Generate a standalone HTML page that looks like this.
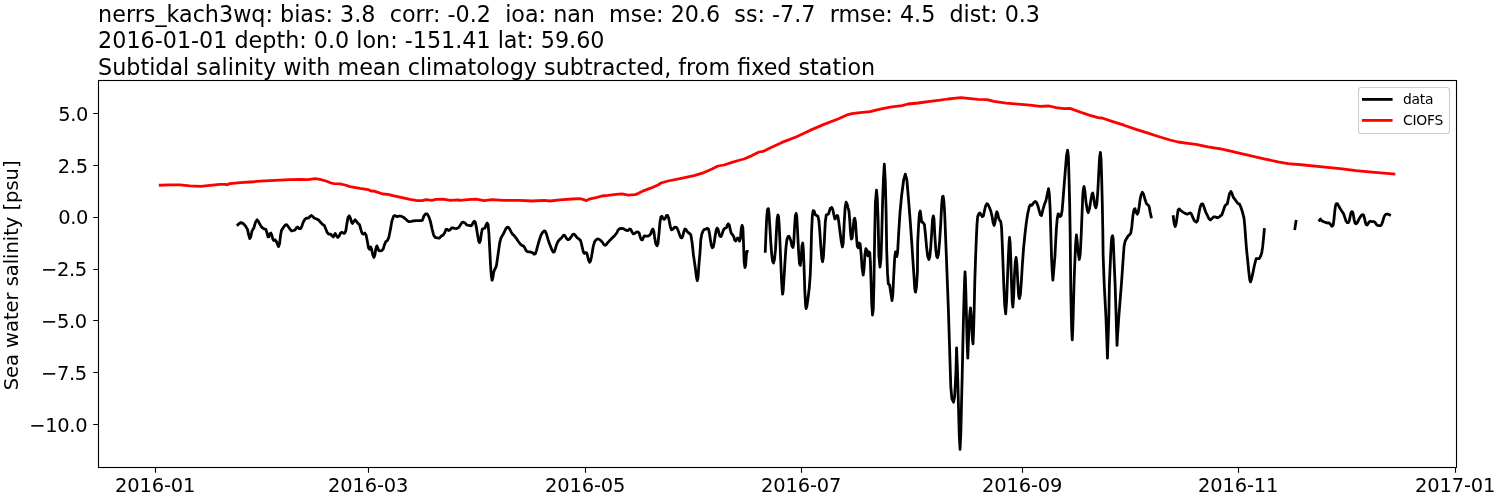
<!DOCTYPE html>
<html lang="en"><head><meta charset="utf-8"><title>nerrs_kach3wq salinity</title>
<style>html,body{margin:0;padding:0;background:#fff;width:1500px;height:500px;overflow:hidden}</style></head>
<body>
<svg width="1500" height="500" viewBox="0 0 1500 500" style="position:absolute;left:0;top:0;will-change:transform">
<rect x="0" y="0" width="1500" height="500" fill="#fff"/>
<defs><clipPath id="ax"><rect x="98.5" y="80.5" width="1358.0" height="387.0"/></clipPath></defs>
<g clip-path="url(#ax)" fill="none" stroke-linejoin="round" stroke-linecap="square">
<path d="M237.92 224.76 L239.20 223.48 L241.12 222.52 L243.20 223.48 L245.60 226.20 L247.52 229.40 L248.48 234.20 L249.76 238.52 L250.72 236.92 L252.00 231.00 L253.92 227.80 L255.52 222.20 L257.12 219.80 L258.40 221.40 L260.00 224.60 L261.92 227.48 L264.00 228.92 L265.92 229.40 L266.88 232.60 L268.00 236.92 L268.96 236.92 L269.92 233.72 L270.88 233.08 L271.84 235.00 L272.80 239.00 L273.76 240.60 L275.04 239.80 L276.32 241.40 L277.60 244.60 L278.56 246.52 L279.52 243.80 L280.48 235.80 L281.44 230.52 L283.20 227.80 L284.80 225.40 L286.40 224.60 L288.00 226.20 L289.60 228.60 L291.52 231.00 L293.60 230.52 L295.20 229.88 L296.48 227.80 L297.76 227.00 L299.04 228.60 L300.64 228.60 L301.92 226.20 L303.20 222.20 L304.80 219.32 L306.40 218.20 L308.32 218.20 L309.92 216.60 L311.20 215.48 L312.80 216.60 L314.40 218.20 L316.80 219.00 L318.88 220.28 L320.80 222.52 L322.72 224.60 L324.32 225.40 L325.60 228.60 L327.20 232.60 L328.80 234.20 L330.72 234.20 L332.00 235.80 L333.28 236.92 L334.24 235.00 L335.20 233.40 L336.48 235.80 L337.76 237.40 L339.04 236.28 L340.32 233.40 L341.60 232.28 L343.20 233.08 L344.48 233.40 L345.76 231.00 L346.88 223.80 L348.00 217.40 L349.28 215.80 L350.40 218.20 L351.52 222.20 L352.48 223.48 L353.76 221.40 L355.20 219.80 L356.48 221.40 L357.92 223.48 L359.52 224.60 L360.80 229.40 L362.08 233.40 L363.36 234.20 L364.80 233.08 L366.08 235.00 L367.20 240.60 L368.48 247.80 L369.76 249.40 L370.72 247.00 L371.68 249.40 L372.80 255.00 L373.92 257.40 L374.88 255.00 L375.84 248.60 L376.80 245.88 L377.76 247.80 L378.72 250.68 L380.00 251.00 L381.60 250.68 L383.20 249.08 L384.48 244.60 L385.76 241.72 L387.36 240.60 L388.80 237.40 L390.40 229.40 L392.00 220.60 L393.60 216.12 L394.88 215.48 L396.80 216.60 L398.88 216.12 L401.12 216.12 L403.68 217.40 L406.40 219.80 L408.80 221.72 L411.20 221.40 L413.60 220.92 L416.00 220.60 L418.40 220.60 L420.80 220.60 L422.40 220.28 L424.00 215.80 L425.60 213.88 L427.20 213.88 L428.80 216.60 L430.40 221.40 L432.00 228.60 L433.60 235.00 L435.20 237.40 L437.28 237.88 L439.20 238.20 L441.12 236.28 L443.20 235.00 L444.80 232.60 L445.92 229.40 L447.20 229.40 L448.48 230.52 L450.08 229.88 L451.68 227.80 L452.88 227.88 L454.80 228.36 L456.72 228.52 L458.80 227.40 L460.40 225.00 L462.00 222.60 L463.60 222.12 L465.20 223.08 L466.80 225.00 L468.88 225.48 L470.80 225.80 L472.08 225.00 L473.20 222.28 L474.32 221.32 L475.28 222.28 L476.40 227.40 L477.52 234.60 L478.80 241.48 L479.60 242.60 L480.40 240.52 L481.36 233.80 L482.32 229.00 L483.60 228.52 L484.88 228.20 L486.00 225.00 L487.12 223.08 L488.08 224.52 L488.88 233.00 L489.68 248.20 L490.48 264.20 L491.28 275.40 L492.08 280.20 L492.88 277.80 L493.52 273.00 L494.48 269.80 L495.60 267.72 L496.40 265.80 L497.36 259.40 L498.48 251.40 L499.60 243.40 L500.88 238.28 L502.48 235.40 L504.08 232.52 L505.68 229.00 L507.28 227.08 L508.56 227.40 L509.84 229.32 L511.12 231.88 L512.40 234.12 L514.00 235.40 L515.92 237.80 L518.00 241.00 L520.08 243.72 L521.68 245.32 L523.28 245.80 L524.56 247.40 L525.84 250.12 L527.12 251.72 L529.20 251.88 L531.28 252.20 L532.88 253.00 L534.16 254.28 L535.28 253.80 L536.40 250.60 L537.68 245.80 L539.28 240.20 L540.88 235.40 L542.48 232.52 L544.08 230.92 L545.36 231.40 L546.64 234.60 L548.24 240.20 L550.00 245.00 L551.76 249.48 L553.20 252.20 L554.32 251.88 L555.28 249.00 L556.56 244.68 L558.00 241.48 L559.76 239.40 L561.68 237.80 L563.28 235.40 L564.40 235.08 L565.52 236.68 L566.80 238.92 L568.08 239.72 L569.68 238.92 L571.28 236.68 L572.88 234.28 L574.16 234.12 L575.60 235.72 L577.20 237.80 L578.96 238.92 L580.56 240.52 L581.52 244.20 L582.48 248.20 L583.44 252.20 L584.40 253.48 L585.68 252.52 L586.80 253.00 L587.60 256.20 L588.56 260.20 L589.52 262.28 L590.48 261.32 L591.44 257.00 L592.40 251.40 L593.36 245.80 L594.48 242.12 L595.92 239.88 L597.52 238.92 L599.12 239.24 L600.72 240.52 L602.32 242.12 L603.60 244.20 L604.88 245.32 L606.16 244.68 L607.76 242.60 L610.00 240.20 L612.40 237.80 L614.80 235.40 L616.72 233.00 L618.00 230.28 L619.60 228.68 L621.52 228.36 L623.60 228.68 L625.20 229.80 L626.80 230.60 L628.40 230.28 L629.52 229.00 L630.80 229.32 L632.08 232.20 L633.36 233.80 L634.80 233.48 L636.40 232.20 L638.00 231.88 L639.12 233.00 L640.08 236.68 L641.20 239.40 L642.32 239.88 L643.28 237.80 L644.40 235.88 L646.00 236.20 L647.60 236.20 L649.20 235.40 L650.80 233.80 L651.92 230.28 L652.88 229.00 L653.84 231.40 L654.80 238.60 L655.92 244.20 L657.04 245.80 L658.00 243.40 L658.96 233.80 L659.92 222.60 L660.88 217.00 L661.84 216.20 L662.80 217.80 L664.08 219.40 L665.36 218.12 L666.64 215.40 L667.60 215.40 L668.56 217.80 L669.52 222.60 L670.48 227.40 L671.60 229.80 L672.88 229.32 L674.32 227.40 L675.92 227.08 L677.20 228.20 L678.48 231.40 L679.76 235.40 L681.04 237.80 L682.00 237.80 L682.96 235.40 L683.92 231.40 L684.88 229.00 L685.84 229.32 L687.12 231.40 L688.72 233.00 L690.00 233.80 L690.88 235.00 L692.16 243.00 L693.44 255.00 L695.20 267.00 L696.48 277.40 L697.28 280.60 L698.08 277.40 L698.88 265.40 L700.00 252.60 L700.80 239.80 L701.76 234.20 L703.04 231.00 L704.32 229.40 L705.92 229.08 L707.20 228.28 L708.48 228.92 L709.44 233.40 L710.40 239.80 L711.36 245.40 L712.32 247.80 L713.28 247.00 L714.24 242.20 L715.20 235.80 L716.16 230.20 L717.12 228.12 L718.08 229.40 L719.04 233.40 L720.00 236.28 L720.96 236.60 L721.92 234.68 L722.88 231.48 L724.00 228.92 L725.12 228.28 L726.40 227.80 L727.36 225.08 L728.32 223.80 L729.28 225.08 L730.24 229.40 L731.20 233.08 L732.48 234.68 L733.76 236.60 L734.72 240.12 L735.68 241.08 L736.64 239.48 L737.60 237.88 L738.56 239.00 L739.52 241.08 L740.48 238.20 L741.28 228.60 L742.08 225.40 L742.88 227.80 L743.52 243.00 L744.16 262.20 L744.96 267.48 L745.60 265.40 L746.24 257.40 L746.72 251.32 L747.20 251.32 M765.28 251.32 L765.92 235.00 L766.72 217.40 L767.52 209.40 L768.32 208.60 L768.96 212.60 L769.76 225.40 L770.72 241.40 L771.68 254.20 L772.64 261.40 L773.44 263.00 L774.40 259.80 L775.52 249.40 L776.32 233.40 L777.12 219.00 L777.92 215.00 L778.56 216.60 L779.20 225.40 L780.00 243.00 L780.80 262.20 L781.44 278.20 L782.08 289.40 L782.56 294.20 L783.20 290.68 L784.00 278.20 L784.96 262.20 L785.92 247.80 L786.88 239.80 L788.00 236.60 L788.96 236.28 L789.92 238.20 L791.04 241.40 L792.00 246.20 L792.96 247.48 L793.76 243.00 L794.56 227.00 L795.36 215.80 L796.16 213.40 L796.80 216.60 L797.60 231.80 L798.56 251.00 L799.52 263.80 L800.32 265.40 L801.12 259.00 L801.92 246.20 L802.72 243.00 L803.36 250.20 L804.00 265.40 L804.80 291.00 L805.60 305.40 L806.08 308.60 L806.88 306.20 L808.00 298.20 L809.28 287.80 L810.24 275.00 L810.88 259.00 L811.52 233.40 L812.32 215.80 L813.12 210.68 L814.08 211.00 L815.20 214.52 L816.48 215.48 L817.92 216.28 L818.88 220.60 L819.84 231.80 L820.80 246.20 L821.76 258.20 L822.56 261.72 L823.36 257.40 L824.32 241.40 L825.28 222.20 L826.24 215.00 L827.20 214.52 L828.48 214.20 L829.44 211.00 L830.40 208.12 L831.68 207.48 L832.80 209.40 L833.92 215.00 L834.88 219.00 L835.84 218.20 L836.80 215.48 L837.76 215.80 L838.72 221.40 L840.00 231.80 L841.28 241.40 L842.40 247.00 L843.20 243.00 L844.16 223.80 L845.12 207.80 L846.08 202.20 L847.04 203.80 L848.00 207.80 L848.96 211.00 L849.76 220.60 L850.56 233.40 L851.36 239.00 L852.16 238.20 L852.96 230.20 L853.92 219.80 L854.72 218.20 L855.52 222.20 L856.32 235.00 L857.28 246.20 L858.24 247.80 L859.20 243.00 L860.16 243.80 L861.12 254.20 L862.08 267.80 L863.20 275.00 L864.00 269.40 L864.96 254.20 L865.92 248.60 L866.88 250.20 L867.84 255.80 L868.80 251.80 L869.76 252.60 L870.40 262.20 L871.04 281.40 L871.68 303.00 L872.48 315.00 L873.28 309.40 L873.92 284.60 L874.56 243.00 L875.36 203.00 L876.48 190.20 L877.28 198.20 L878.08 219.00 L878.88 255.80 L880.00 267.00 L880.96 259.00 L881.76 235.00 L882.56 203.00 L883.36 180.60 L884.32 164.12 L885.28 180.60 L886.08 211.00 L886.72 251.00 L887.52 273.40 L888.32 283.80 L889.60 285.08 L890.88 293.40 L892.00 300.60 L892.80 295.00 L893.76 275.00 L894.72 257.40 L895.52 251.80 L896.80 256.60 L897.60 252.60 L898.56 235.00 L900.00 212.60 L901.60 195.80 L903.68 179.80 L905.28 174.20 L906.88 179.80 L908.48 199.00 L910.08 219.00 L911.68 241.40 L912.80 259.00 L913.92 275.00 L914.72 288.60 L915.52 292.12 L916.48 287.00 L917.44 271.80 L917.68 243.00 L918.32 230.20 L918.96 219.00 L919.60 212.60 L920.24 211.00 L920.88 215.80 L921.68 222.20 L922.80 222.20 L924.40 224.60 L925.52 235.00 L926.64 247.80 L927.76 256.60 L928.88 259.48 L929.84 256.60 L930.80 246.20 L931.76 231.80 L932.56 219.00 L933.36 215.80 L934.00 219.00 L934.80 235.00 L935.76 249.40 L936.72 256.60 L937.52 257.72 L938.48 254.20 L939.60 241.40 L940.72 223.80 L941.68 204.60 L942.48 196.92 L943.12 196.12 L943.92 201.40 L944.72 214.20 L945.52 235.00 L946.48 259.00 L947.44 284.60 L948.40 310.20 L949.20 335.80 L950.00 361.40 L950.80 387.00 L951.92 399.00 L953.52 402.20 L954.64 396.60 L955.60 379.00 L956.08 367.80 L956.56 347.80 L957.36 367.80 L957.84 382.20 L958.48 407.00 L959.28 435.80 L960.08 449.40 L960.88 431.80 L961.52 403.00 L962.16 377.40 L962.80 347.00 L963.44 319.80 L964.08 295.80 L964.56 281.40 L965.04 271.80 L965.52 281.40 L966.00 297.40 L966.48 316.60 L967.12 342.20 L967.76 358.20 L968.40 342.20 L969.20 323.00 L969.84 313.40 L970.48 307.80 L971.12 315.00 L971.76 327.80 L972.40 339.00 L973.04 343.80 L973.52 332.60 L974.16 310.20 L974.80 281.40 L975.60 257.40 L976.40 236.60 L977.04 223.80 L977.68 216.60 L978.80 213.88 L979.92 212.92 L981.20 215.00 L982.32 216.60 L983.44 215.80 L984.40 211.00 L985.52 206.20 L986.80 203.80 L987.92 204.28 L989.20 207.00 L990.80 211.00 L992.08 216.60 L993.20 223.00 L994.16 225.40 L995.12 222.20 L996.08 214.20 L996.88 211.80 L997.68 213.40 L998.64 218.20 L999.60 220.28 L1000.72 221.40 L1001.52 227.00 L1002.16 241.40 L1002.96 262.20 L1003.76 284.60 L1004.72 305.40 L1005.68 313.88 L1006.64 300.60 L1007.60 275.00 L1008.40 255.80 L1009.04 243.00 L1009.52 237.40 L1010.16 243.00 L1010.80 259.00 L1011.44 281.40 L1012.24 302.20 L1012.88 307.00 L1013.68 295.80 L1014.48 275.00 L1015.28 262.20 L1016.08 257.40 L1016.88 263.80 L1017.68 279.80 L1018.64 295.80 L1019.44 298.52 L1020.40 294.20 L1021.36 281.40 L1022.32 265.40 L1023.60 247.80 L1024.88 235.00 L1026.16 223.80 L1027.60 214.20 L1029.20 207.00 L1030.32 204.92 L1031.60 205.40 L1032.88 203.80 L1034.16 202.20 L1035.44 201.40 L1036.72 202.68 L1038.00 206.20 L1039.28 211.00 L1040.40 215.00 L1041.52 215.48 L1042.80 210.20 L1044.40 204.60 L1046.00 200.60 L1047.28 194.20 L1048.56 188.60 L1049.36 194.20 L1050.16 209.40 L1050.64 227.00 L1051.12 243.00 L1051.60 259.00 L1052.24 271.80 L1052.88 280.12 L1053.52 273.40 L1054.16 265.40 L1054.96 255.80 L1055.60 243.00 L1056.40 228.60 L1057.20 219.00 L1058.16 213.88 L1059.12 214.68 L1060.08 216.60 L1061.20 215.48 L1062.16 210.20 L1062.96 200.60 L1063.92 187.80 L1065.20 171.80 L1066.48 155.80 L1067.60 150.20 L1068.40 156.60 L1069.04 179.00 L1069.68 204.60 L1070.16 231.80 L1070.48 262.20 L1070.80 291.00 L1071.28 315.00 L1071.76 331.00 L1072.24 339.80 L1072.72 331.00 L1073.20 315.00 L1073.84 291.00 L1074.32 275.00 L1074.96 259.00 L1075.60 244.60 L1076.40 235.00 L1077.20 241.40 L1078.00 251.00 L1079.28 259.48 L1080.24 254.20 L1081.20 235.00 L1082.16 211.00 L1082.80 195.00 L1083.44 188.60 L1084.08 186.52 L1084.88 191.00 L1086.00 202.20 L1087.28 210.20 L1088.24 212.60 L1089.52 208.60 L1090.80 200.60 L1091.92 194.20 L1092.72 192.92 L1093.68 197.40 L1094.80 205.40 L1095.92 207.80 L1096.88 203.80 L1097.84 191.00 L1098.80 171.80 L1099.60 157.40 L1100.40 152.28 L1101.04 159.00 L1101.68 179.00 L1102.32 204.60 L1102.80 230.20 L1103.12 255.00 L1104.24 284.92 L1105.84 315.00 L1106.80 339.00 L1107.44 358.20 L1108.08 339.00 L1108.88 315.00 L1109.36 284.92 L1110.64 255.00 L1111.28 243.00 L1111.92 236.92 L1112.56 235.80 L1113.20 239.00 L1113.84 255.00 L1115.12 284.92 L1116.08 315.00 L1116.72 335.80 L1117.04 345.40 L1117.52 335.80 L1118.96 315.00 L1121.36 284.92 L1123.44 255.00 L1124.08 246.20 L1125.04 241.40 L1126.32 239.00 L1127.92 236.28 L1129.52 234.68 L1130.80 233.08 L1131.76 227.00 L1132.88 215.80 L1134.00 209.72 L1134.96 208.60 L1135.92 211.80 L1137.20 214.20 L1138.16 212.60 L1139.12 207.00 L1140.08 199.80 L1141.04 195.00 L1142.32 192.28 L1143.60 194.20 L1144.88 199.00 L1146.48 203.80 L1148.40 205.40 L1149.28 207.00 L1150.08 211.80 L1151.20 216.92 M1173.28 216.60 L1174.08 223.00 L1175.20 226.52 L1176.16 223.80 L1177.12 216.60 L1178.08 210.20 L1179.20 208.92 L1180.80 210.52 L1182.88 212.12 L1185.12 213.40 L1187.20 214.20 L1188.80 213.40 L1190.40 212.92 L1191.52 214.20 L1192.80 217.40 L1194.40 220.92 L1196.32 222.20 L1197.60 220.60 L1198.88 213.40 L1200.16 207.00 L1201.44 204.12 L1202.72 203.80 L1204.00 207.00 L1205.60 211.80 L1207.20 215.00 L1208.80 218.52 L1210.40 220.12 L1212.00 218.52 L1213.60 216.92 L1215.52 216.92 L1217.60 217.88 L1219.68 216.60 L1221.92 214.68 L1223.20 211.00 L1224.80 206.20 L1226.08 204.60 L1227.36 203.80 L1228.32 199.00 L1229.60 193.40 L1230.88 191.48 L1232.00 193.40 L1233.28 197.40 L1234.72 199.00 L1236.32 201.40 L1237.92 203.48 L1239.52 204.12 L1240.80 207.00 L1242.40 211.80 L1244.00 218.20 L1244.80 226.20 L1245.44 235.00 L1246.40 247.80 L1247.52 259.00 L1248.80 271.80 L1249.76 279.80 L1250.56 281.88 L1251.52 279.00 L1252.80 273.40 L1254.08 267.00 L1255.20 262.20 L1256.16 258.68 L1257.60 258.52 L1259.20 258.68 L1260.80 255.80 L1261.92 251.80 L1262.72 246.20 L1263.36 239.80 L1263.84 235.00 L1264.32 229.40 M1296.00 221.40 L1294.88 228.60 M1319.44 220.44 L1320.40 219.00 L1322.00 221.00 L1324.40 222.04 L1326.80 222.84 L1329.20 223.00 L1330.64 224.60 L1331.76 226.36 L1333.04 225.40 L1333.84 220.60 L1334.64 212.60 L1335.44 205.80 L1336.40 203.64 L1337.60 203.96 L1338.80 206.20 L1340.40 209.00 L1342.00 211.40 L1343.60 213.80 L1344.80 217.40 L1346.00 221.00 L1347.20 222.60 L1348.40 222.60 L1349.36 220.60 L1350.16 216.60 L1350.96 212.76 L1351.76 211.64 L1352.72 211.96 L1353.36 215.00 L1354.16 219.80 L1355.12 223.00 L1356.24 223.80 L1357.36 222.60 L1358.64 219.80 L1360.00 217.40 L1361.36 215.40 L1362.48 214.60 L1363.60 215.16 L1364.40 217.80 L1365.36 222.20 L1366.16 224.60 L1367.12 225.00 L1368.24 223.40 L1369.36 221.80 L1370.48 221.24 L1372.00 221.56 L1373.60 221.56 L1374.96 222.20 L1376.24 224.20 L1377.60 225.40 L1378.96 225.64 L1380.40 225.56 L1381.60 224.60 L1382.64 221.80 L1383.60 218.20 L1384.56 215.80 L1385.60 214.60 L1386.80 214.04 L1388.00 214.04 L1388.80 214.44 L1389.60 214.84" stroke="#000" stroke-width="2.78"/>
<path d="M160.20 185.20 L170.00 184.80 L180.00 184.80 L190.00 185.80 L201.00 186.40 L210.00 185.40 L220.00 184.40 L225.60 184.40 L227.00 184.80 L230.00 183.60 L240.00 182.60 L250.00 182.00 L260.00 181.20 L270.00 180.60 L280.00 180.20 L290.00 179.60 L300.00 179.40 L308.00 179.60 L315.00 178.60 L320.00 179.40 L326.00 181.00 L331.00 183.00 L334.00 183.60 L340.00 183.80 L345.00 185.00 L350.00 186.60 L360.00 188.40 L368.00 189.60 L371.00 191.00 L374.00 191.20 L378.00 192.40 L383.00 194.00 L388.00 194.40 L394.00 195.80 L402.00 197.60 L410.00 199.40 L417.00 200.60 L422.00 200.60 L426.00 199.60 L432.00 200.40 L436.00 199.40 L443.00 199.20 L450.00 200.40 L458.00 199.80 L460.00 200.40 L468.00 199.60 L476.00 199.20 L484.00 200.60 L492.00 199.60 L504.00 200.40 L520.00 200.40 L532.00 201.00 L544.00 200.40 L550.00 201.00 L560.00 199.80 L572.00 199.00 L580.00 198.60 L583.60 199.60 L586.40 200.60 L589.00 199.20 L596.00 197.60 L602.00 196.00 L608.00 195.40 L616.00 194.40 L622.00 193.80 L628.00 195.20 L635.00 194.60 L638.00 193.60 L644.00 190.60 L652.00 187.60 L658.00 185.00 L661.00 183.00 L668.00 181.00 L680.00 178.60 L694.00 175.60 L704.00 172.60 L712.00 169.00 L718.00 166.00 L724.00 165.00 L732.00 162.40 L740.00 160.00 L744.00 159.00 L752.00 155.60 L759.00 152.00 L763.00 151.40 L770.00 148.00 L782.00 142.40 L796.00 137.00 L810.00 130.40 L824.00 124.40 L838.00 119.00 L848.00 114.60 L852.00 113.60 L860.00 112.60 L870.00 111.60 L878.00 109.60 L890.00 107.20 L902.00 105.60 L908.00 104.00 L918.00 103.00 L930.00 101.40 L940.00 100.20 L948.00 99.00 L956.00 98.20 L961.00 97.60 L968.00 98.40 L978.00 99.40 L987.00 99.60 L994.00 101.40 L1006.00 103.20 L1018.00 104.20 L1030.00 105.20 L1040.00 106.40 L1049.00 106.00 L1056.00 107.60 L1064.00 108.60 L1070.00 108.40 L1080.00 112.00 L1090.00 115.40 L1098.00 117.60 L1102.00 118.00 L1112.00 121.40 L1124.00 125.20 L1136.00 129.40 L1148.00 133.20 L1160.00 137.00 L1170.00 140.00 L1178.00 142.00 L1188.00 143.40 L1196.00 144.40 L1208.00 146.80 L1222.00 149.20 L1236.00 152.40 L1250.00 155.60 L1264.00 158.80 L1278.00 161.80 L1288.00 163.60 L1304.00 165.00 L1320.00 166.60 L1340.00 168.60 L1356.00 170.60 L1372.00 172.20 L1384.00 173.20 L1394.00 173.94" stroke="#f00" stroke-width="2.78"/>
</g>
<rect x="98.5" y="80.5" width="1358.0" height="387.0" fill="none" stroke="#000" stroke-width="1.11"/>
<path d="M155.50 467.50 v5.3 M368.50 467.50 v5.3 M585.50 467.50 v5.3 M801.50 467.50 v5.3 M1022.50 467.50 v5.3 M1238.50 467.50 v5.3 M1455.50 467.50 v5.3 M98.50 113.50 h-5.3 M98.50 165.50 h-5.3 M98.50 217.50 h-5.3 M98.50 269.50 h-5.3 M98.50 320.50 h-5.3 M98.50 372.50 h-5.3 M98.50 424.50 h-5.3" stroke="#000" stroke-width="1.11" fill="none"/>
<g font-family="'DejaVu Sans', 'Liberation Sans', sans-serif" fill="#000">
<text x="155.10" y="492.0" font-size="19.44" text-anchor="middle" letter-spacing="-0.12">2016-01</text>
<text x="368.10" y="492.0" font-size="19.44" text-anchor="middle" letter-spacing="-0.12">2016-03</text>
<text x="585.10" y="492.0" font-size="19.44" text-anchor="middle" letter-spacing="-0.12">2016-05</text>
<text x="801.10" y="492.0" font-size="19.44" text-anchor="middle" letter-spacing="-0.12">2016-07</text>
<text x="1022.10" y="492.0" font-size="19.44" text-anchor="middle" letter-spacing="-0.12">2016-09</text>
<text x="1238.10" y="492.0" font-size="19.44" text-anchor="middle" letter-spacing="-0.12">2016-11</text>
<text x="1455.10" y="492.0" font-size="19.44" text-anchor="middle" letter-spacing="-0.12">2017-01</text>
<text x="88.00" y="120.60" font-size="19.44" text-anchor="end" letter-spacing="-0.35">5.0</text>
<text x="87.70" y="172.60" font-size="19.44" text-anchor="end" letter-spacing="-0.35">2.5</text>
<text x="88.00" y="223.60" font-size="19.44" text-anchor="end" letter-spacing="-0.35">0.0</text>
<text x="86.90" y="275.60" font-size="19.44" text-anchor="end" letter-spacing="-0.35">−2.5</text>
<text x="86.90" y="327.60" font-size="19.44" text-anchor="end" letter-spacing="-0.35">−5.0</text>
<text x="86.90" y="379.60" font-size="19.44" text-anchor="end" letter-spacing="-0.35">−7.5</text>
<text x="87.20" y="431.60" font-size="19.44" text-anchor="end" letter-spacing="-0.35">−10.0</text>
<text transform="translate(17.5 275.4) rotate(-90)" font-size="19.44" text-anchor="middle">Sea water salinity [psu]</text>
<text x="98.1" y="21.6" font-size="22.25" xml:space="preserve">nerrs_kach3wq: bias: 3.8  corr: -0.2  ioa: nan  mse: 20.6  ss: -7.7  rmse: 4.5  dist: 0.3</text>
<text x="98.1" y="48.3" font-size="22.25" xml:space="preserve">2016-01-01 depth: 0.0 lon: -151.41 lat: 59.60</text>
<text x="98.1" y="74.5" font-size="22.25" xml:space="preserve">Subtidal salinity with mean climatology subtracted, from fixed station</text>
<rect x="1358.5" y="87.5" width="91" height="46" rx="2.8" ry="2.8" fill="#fff" fill-opacity="0.8" stroke="#ccc" stroke-width="1.11"/>
<path d="M1363.4 99.4 h27.8" stroke="#000" stroke-width="2.78" stroke-linecap="square"/>
<path d="M1363.4 120.4 h27.8" stroke="#f00" stroke-width="2.78" stroke-linecap="square"/>
<text x="1403" y="104.3" font-size="13.89" letter-spacing="-0.22">data</text>
<text x="1403" y="125.2" font-size="13.89" letter-spacing="-0.22">CIOFS</text>
</g></svg>
</body></html>
